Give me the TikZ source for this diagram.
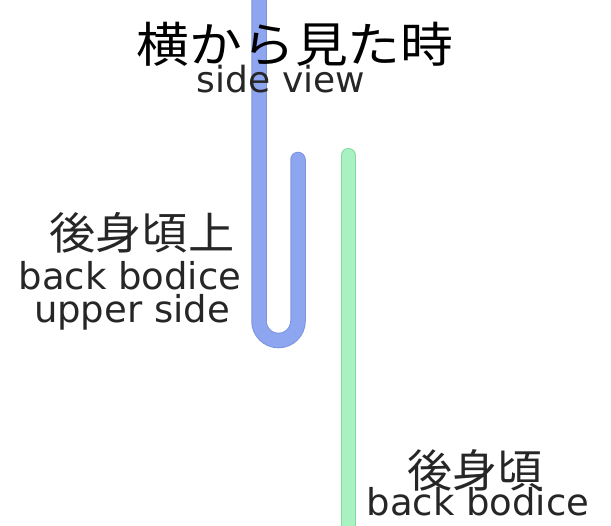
\documentclass[tikz,border=0pt]{standalone}
\usepackage{fontspec}
\setmainfont{DejaVu Sans}
\newfontfamily\jpfont{Noto Sans CJK JP}
\newfontfamily\latfont{DejaVu Sans}
\definecolor{foldblue}{HTML}{8EA6F0}
\definecolor{foldblueedge}{HTML}{7C94E0}
\definecolor{bodgreen}{HTML}{A8F2C2}
\definecolor{bodgreenedge}{HTML}{86D8A2}
\definecolor{txt}{HTML}{262626}
\tikzset{
  jp/.style={font=\jpfont, text=txt, inner sep=0pt, anchor=base, text depth=1pt},
  lat/.style={font=\latfont\fontsize{37}{42}\selectfont, text=txt, inner sep=0pt, anchor=base, text height=26pt, text depth=0pt},
}
\begin{document}
\begin{tikzpicture}[x=1pt,y=-1pt]
\useasboundingbox (0,0) rectangle (611,526);
\fill[white] (0,0) rectangle (611,526);
% blue folded piece (upper back bodice)
\draw[foldblueedge, line width=15.5pt, line cap=round]
  (259,-5) -- (259,321) arc[start angle=180, end angle=0, radius=19.5] -- (298,159.5);
\draw[foldblue, line width=13.5pt, line cap=round]
  (259,-5) -- (259,321) arc[start angle=180, end angle=0, radius=19.5] -- (298,159.5);
% green back bodice
\draw[bodgreenedge, line width=15pt, line cap=round] (348,155.5) -- (348,540);
\draw[bodgreen, line width=13pt, line cap=round] (348,155.5) -- (348,540);
% texts
\node[jp, font=\jpfont\fontsize{48}{52}\selectfont, text=black] (title) at (295,63) {\scalebox{1.1}[1]{横から見た時}};
\node[lat, font=\latfont\fontsize{36}{40}\selectfont] (sideview) at (281,93) {side view};
\node[jp, font=\jpfont\fontsize{44}{48}\selectfont] (upperjp) at (142,250) {\scalebox{1.05}[1]{後身頃上}};
\node[lat] (upperen1) at (130,290) {back bodice};
\node[lat, text depth=8pt] (upperen2) at (132,323) {upper side};
\node[jp, font=\jpfont\fontsize{45}{49}\selectfont] (backjp) at (475,488) {後身頃};
\node[lat] (backen) at (478,516) {back bodice};
\end{tikzpicture}
\end{document}
